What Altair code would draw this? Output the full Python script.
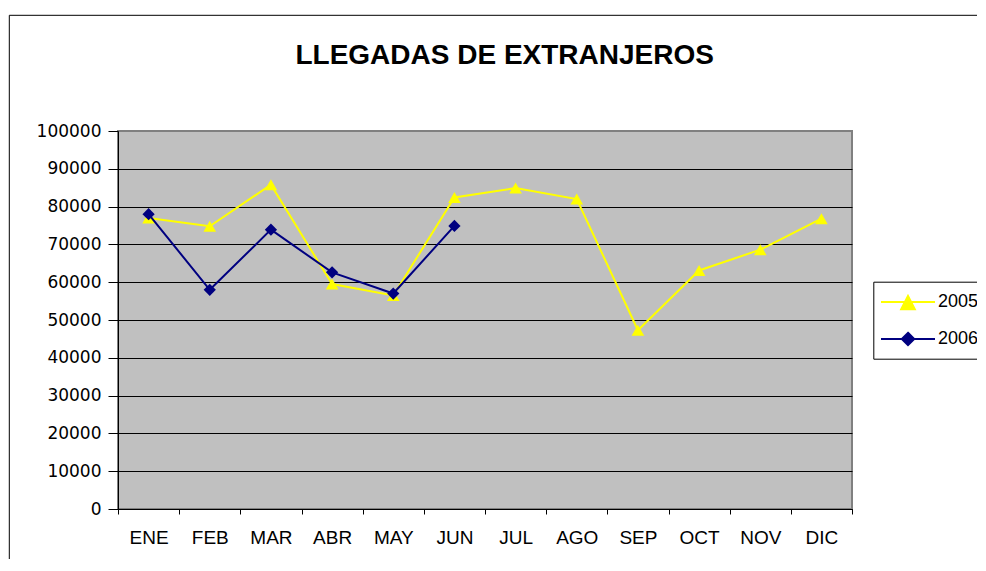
import altair as alt
import pandas as pd

# ---- data ----
meses = ["ENE", "FEB", "MAR", "ABR", "MAY", "JUN", "JUL", "AGO", "SEP", "OCT", "NOV", "DIC"]
llegadas_2005 = [77000, 74800, 85800, 59500, 56500, 82400, 84900, 82000, 47300, 63100, 68600, 76800]
llegadas_2006 = [78000, 58000, 73900, 62600, 57000, 74900]
series = ["2005", "2006"]
y_ticks = list(range(0, 100001, 10000))
titulo = "LLEGADAS DE EXTRANJEROS"

df05 = pd.DataFrame({"mes": meses, "valor": llegadas_2005, "serie": "2005"})
df06 = pd.DataFrame({"mes": meses[:len(llegadas_2006)], "valor": llegadas_2006, "serie": "2006"})
df_leg = pd.DataFrame({"serie": series})

YELLOW = "#FFFF00"
NAVY = "#000080"

x_enc = alt.X(
    "mes:N",
    sort=meses,
    scale=alt.Scale(type="band", domain=meses, paddingInner=0, paddingOuter=0),
    axis=alt.Axis(
        title=None, labelAngle=0, tickBand="extent", grid=False,
        labelFont="Liberation Sans", labelFontSize=19, labelColor="black",
        labelPadding=14.5, tickSize=5, tickColor="black",
        domainColor="black", domainWidth=1,
    ),
)
y_enc = alt.Y(
    "valor:Q",
    scale=alt.Scale(domain=[0, 100000], nice=False, zero=True),
    axis=alt.Axis(
        title=None, values=y_ticks, format="d",
        labelFont="DejaVu Sans", labelFontSize=17, labelColor="black",
        labelPadding=7, tickSize=10, tickColor="black",
        domainColor="black", domainWidth=1,
        labelFlush=False, labelOverlap=False,
        grid=True,
        gridColor={"condition": {"test": "datum.value >= 100000", "value": "#808080"}, "value": "black"},
        gridWidth=1, gridOpacity=1,
    ),
)

line05 = alt.Chart(df05).mark_line(color=YELLOW, strokeWidth=2).encode(x=x_enc, y=y_enc)
pts05 = alt.Chart(df05).mark_point(filled=True, color=YELLOW, shape="triangle-up", size=160, opacity=1).encode(x=x_enc, y=y_enc)
line06 = alt.Chart(df06).mark_line(color=NAVY, strokeWidth=2).encode(x=x_enc, y=y_enc)
pts06 = alt.Chart(df06).mark_point(filled=True, color=NAVY, shape="diamond", size=150, opacity=1).encode(x=x_enc, y=y_enc)

leg_paths = [
    "M-2.7,0H2.7M0,-0.6L0.68,0.72L-0.68,0.72Z",
    "M-2.7,0H2.7M0,-0.62L0.62,0L0,0.62L-0.62,0Z",
]
leg = alt.Legend(title=None)
legend_layer = alt.Chart(df_leg).mark_point(
    filled=True, clip=True, size=400, strokeWidth=2, opacity=1
).encode(
    x=alt.value(-3000),
    y=alt.value(-3000),
    fill=alt.Fill("serie:N", scale=alt.Scale(domain=series, range=[YELLOW, NAVY]), legend=leg),
    stroke=alt.Stroke("serie:N", scale=alt.Scale(domain=series, range=[YELLOW, NAVY]), legend=leg),
    shape=alt.Shape("serie:N", scale=alt.Scale(domain=series, range=leg_paths), legend=leg),
)

title_layer = alt.Chart(pd.DataFrame({"t": [titulo]})).mark_text(
    font="Liberation Sans", fontSize=28, fontWeight="bold", color="black",
    align="center", baseline="alphabetic",
).encode(text="t:N", x=alt.value(386.7), y=alt.value(-66.7))

one = pd.DataFrame({"b": [0]})
border_left = alt.Chart(one).mark_rule(color="black", strokeWidth=1).encode(
    x=alt.value(-108.7), y=alt.value(-115.7), y2=alt.value(3000)
)
border_top = alt.Chart(one).mark_rule(color="black", strokeWidth=1).encode(
    x=alt.value(-108.7), x2=alt.value(3000), y=alt.value(-115.7)
)

chart = alt.layer(
    border_left, border_top, title_layer, line05, pts05, line06, pts06, legend_layer
).properties(
    width=734, height=378,
    autosize=alt.AutoSizeParams(type="none"),
    padding={"left": 110, "top": 123, "right": 125, "bottom": 50},
    background="white",
).configure_view(
    fill="#C0C0C0", stroke="#808080", strokeWidth=2
).configure_legend(
    orient="none", legendX=755.3, legendY=150.7,
    padding=9.3, strokeColor="black", fillColor="white",
    symbolSize=400, symbolStrokeWidth=2, symbolOffset=14.4,
    labelFont="Liberation Sans", labelFontSize=18, labelColor="black",
    labelOffset=19, rowPadding=14, cornerRadius=0,
)

chart.save("out.html", embed_options={"renderer": "svg", "actions": False})
